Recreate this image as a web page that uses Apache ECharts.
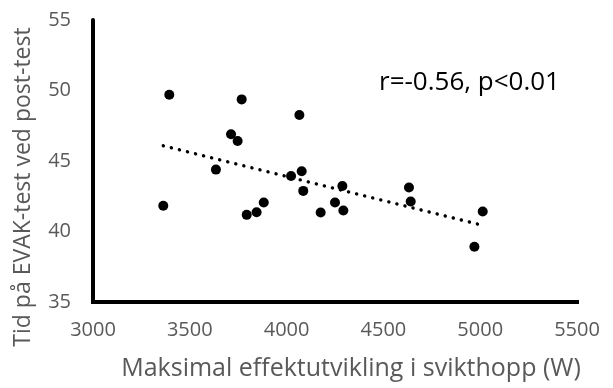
<!DOCTYPE html>
<html>
<head>
<meta charset="utf-8">
<script src="https://cdn.jsdelivr.net/npm/echarts@6/dist/echarts.min.js"></script>
<style>
  html, body { margin: 0; padding: 0; background: #fff; }
  #chart { width: 613px; height: 388px; }
</style>
</head>
<body>
<div id="chart"></div>
<script>
// Maximal power in the countermovement jump (W) vs. EVAK time at post-test
var powerW = [3394, 3768, 4066, 3713, 3747, 3635, 4023, 4078, 4086, 3363, 3794,
              3845, 3882, 4176, 4250, 4293, 4288, 4632, 4641, 5013, 4970];
var evakTime = [49.7, 49.37, 48.26, 46.9, 46.42, 44.39, 43.94, 44.27, 42.88, 41.82, 41.18,
                41.37, 42.06, 41.35, 42.06, 41.49, 43.23, 43.12, 42.13, 41.42, 38.92];
var xTicks = [3000, 3500, 4000, 4500, 5000, 5500];
var yTicks = [35, 40, 45, 50, 55];
var xTitle = 'Maksimal effektutvikling i svikthopp (W)';
var yTitle = 'Tid på EVAK-test ved post-test';
var statText = 'r=-0.56, p<0.01';

// least-squares trend line over the observed range
function linearTrend(xs, ys) {
  var n = xs.length, mx = 0, my = 0;
  for (var i = 0; i < n; i++) { mx += xs[i]; my += ys[i]; }
  mx /= n; my /= n;
  var sxy = 0, sxx = 0;
  for (var j = 0; j < n; j++) {
    sxy += (xs[j] - mx) * (ys[j] - my);
    sxx += (xs[j] - mx) * (xs[j] - mx);
  }
  var b = sxy / sxx, a = my - b * mx;
  var x0 = Math.min.apply(null, xs), x1 = Math.max.apply(null, xs);
  return [[x0, a + b * x0], [x1, a + b * x1]];
}

var points = powerW.map(function (x, i) { return [x, evakTime[i]]; });
var trend = linearTrend(powerW, evakTime);

var FONT = 'Open Sans';
var GREY = '#595959';

var chart = echarts.init(document.getElementById('chart'), null, { renderer: 'canvas' });
chart.setOption({
  animation: false,
  backgroundColor: '#ffffff',
  grid: { left: 93, right: 36, top: 20, bottom: 86, containLabel: false },
  xAxis: {
    type: 'value',
    min: xTicks[0], max: xTicks[xTicks.length - 1], interval: 500,
    axisLine: { show: true, onZero: false, lineStyle: { color: '#000', width: 4, cap: 'square' } },
    axisTick: { show: false },
    splitLine: { show: false },
    axisLabel: {
      color: GREY, fontFamily: FONT, fontSize: 20, margin: 18,
      formatter: function (v) { return String(v); }
    }
  },
  yAxis: {
    type: 'value',
    min: yTicks[0], max: yTicks[yTicks.length - 1], interval: 5,
    axisLine: { show: true, onZero: false, lineStyle: { color: '#000', width: 4 } },
    axisTick: { show: false },
    splitLine: { show: false },
    axisLabel: { color: GREY, fontFamily: FONT, fontSize: 20, margin: 22 }
  },
  graphic: [
    {
      type: 'text', x: 351, y: 369, z: 10,
      style: { text: xTitle, fill: GREY, font: '25px "Open Sans"', align: 'center', verticalAlign: 'middle' }
    },
    {
      type: 'text', x: 23, y: 187, rotation: Math.PI / 2, z: 10,
      style: { text: yTitle, fill: GREY, font: '23px "Open Sans"', align: 'center', verticalAlign: 'middle' }
    },
    {
      type: 'text', x: 379, y: 83, z: 10,
      style: { text: statText, fill: '#000', font: '26px "Open Sans"', align: 'left', verticalAlign: 'middle' }
    }
  ],
  series: [
    {
      type: 'scatter',
      data: points,
      symbol: 'circle',
      symbolSize: 10,
      itemStyle: { color: '#000', opacity: 1 },
      z: 3
    },
    {
      type: 'line',
      data: trend,
      symbol: 'none',
      lineStyle: { color: '#000', width: 3.4, type: [0.1, 8.2], cap: 'round', opacity: 1 },
      z: 2
    }
  ]
});
</script>
</body>
</html>
